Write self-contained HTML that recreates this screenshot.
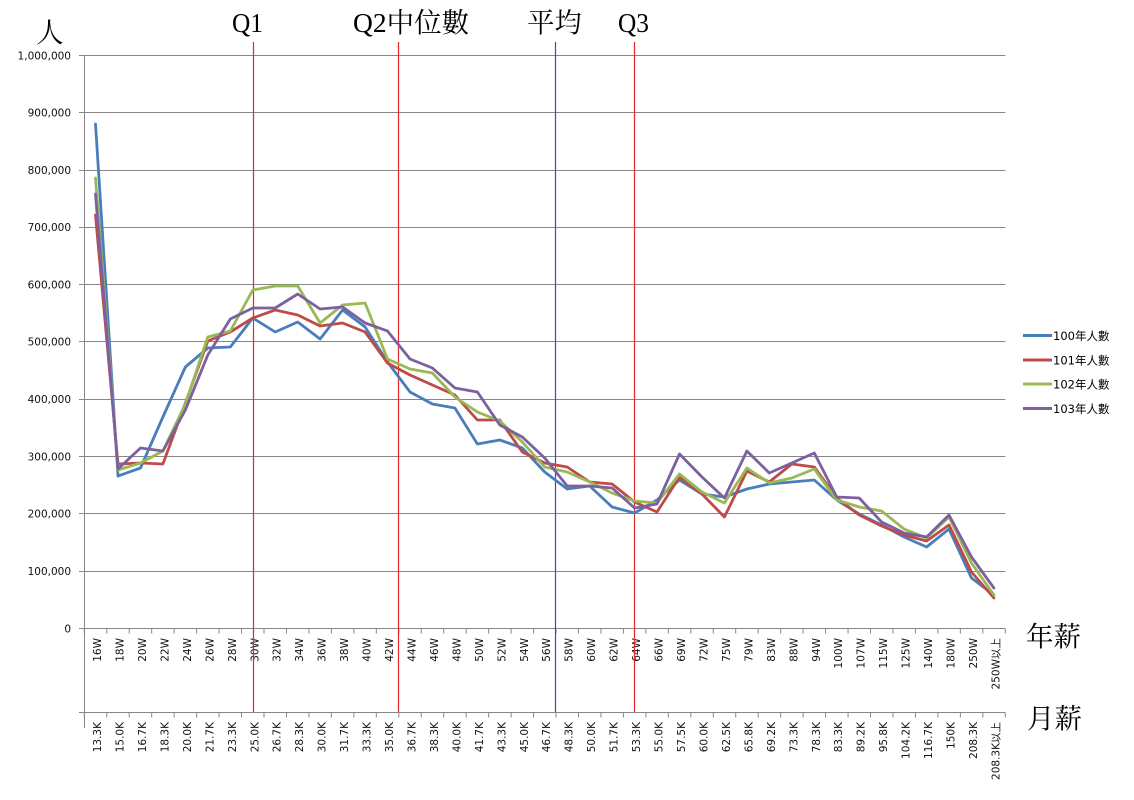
<!DOCTYPE html>
<html><head><meta charset="utf-8"><style>
html,body{margin:0;padding:0;background:#fff;}
svg{display:block;}
.ax{font-family:"DejaVu Sans","Liberation Sans","Noto Sans CJK TC",sans-serif;font-size:10.5px;fill:#111;}
.tt{font-family:"Liberation Serif","Noto Serif CJK TC",serif;font-size:27.5px;fill:#000;}
.lg{font-family:"DejaVu Sans","Noto Sans CJK TC",sans-serif;font-size:11.5px;fill:#000;}
</style></head><body>
<svg width="1134" height="800" viewBox="0 0 1134 800" xmlns="http://www.w3.org/2000/svg">
<rect width="1134" height="800" fill="#fff"/>
<!-- gridlines -->
<g stroke="#868686" stroke-width="1" fill="none">
<path d="M79,55.5H1005.3M79,112.5H1005.3M79,170.5H1005.3M79,227.5H1005.3M79,284.5H1005.3M79,341.5H1005.3M79,399.5H1005.3M79,456.5H1005.3M79,513.5H1005.3M79,571.5H1005.3M79,628.5H1005.3M79,712.5H1005.3"/>
<path d="M84.5,55V728"/>
<path d="M84.3,628.5v5m22.463,-5v5m22.463,-5v5m22.463,-5v5m22.463,-5v5m22.463,-5v5m22.463,-5v5m22.463,-5v5m22.463,-5v5m22.463,-5v5m22.463,-5v5m22.463,-5v5m22.463,-5v5m22.463,-5v5m22.463,-5v5m22.463,-5v5m22.463,-5v5m22.463,-5v5m22.463,-5v5m22.463,-5v5m22.463,-5v5m22.463,-5v5m22.463,-5v5m22.463,-5v5m22.463,-5v5m22.463,-5v5m22.463,-5v5m22.463,-5v5m22.463,-5v5m22.463,-5v5m22.463,-5v5m22.463,-5v5m22.463,-5v5m22.463,-5v5m22.463,-5v5m22.463,-5v5m22.463,-5v5m22.463,-5v5m22.463,-5v5m22.463,-5v5m22.463,-5v5m22.463,-5v5"/>
<path d="M84.3,712.5v5m22.463,-5v5m22.463,-5v5m22.463,-5v5m22.463,-5v5m22.463,-5v5m22.463,-5v5m22.463,-5v5m22.463,-5v5m22.463,-5v5m22.463,-5v5m22.463,-5v5m22.463,-5v5m22.463,-5v5m22.463,-5v5m22.463,-5v5m22.463,-5v5m22.463,-5v5m22.463,-5v5m22.463,-5v5m22.463,-5v5m22.463,-5v5m22.463,-5v5m22.463,-5v5m22.463,-5v5m22.463,-5v5m22.463,-5v5m22.463,-5v5m22.463,-5v5m22.463,-5v5m22.463,-5v5m22.463,-5v5m22.463,-5v5m22.463,-5v5m22.463,-5v5m22.463,-5v5m22.463,-5v5m22.463,-5v5m22.463,-5v5m22.463,-5v5m22.463,-5v5m22.463,-5v5"/>
</g>
<!-- y labels -->
<g class="ax" text-anchor="end">
<text x="71" y="59.5">1,000,000</text>
<text x="71" y="116.5">900,000</text>
<text x="71" y="174">800,000</text>
<text x="71" y="231">700,000</text>
<text x="71" y="288.5">600,000</text>
<text x="71" y="345.5">500,000</text>
<text x="71" y="403">400,000</text>
<text x="71" y="460.5">300,000</text>
<text x="71" y="517.5">200,000</text>
<text x="71" y="575">100,000</text>
<text x="71" y="632.5">0</text>
</g>
<!-- upper x labels (annual) -->
<g class="ax" text-anchor="end">
<text transform="translate(101,638) rotate(-90)">16W</text>
<text transform="translate(123.5,638) rotate(-90)">18W</text>
<text transform="translate(146,638) rotate(-90)">20W</text>
<text transform="translate(168.4,638) rotate(-90)">22W</text>
<text transform="translate(190.9,638) rotate(-90)">24W</text>
<text transform="translate(213.3,638) rotate(-90)">26W</text>
<text transform="translate(235.8,638) rotate(-90)">28W</text>
<text transform="translate(258.3,638) rotate(-90)">30W</text>
<text transform="translate(280.7,638) rotate(-90)">32W</text>
<text transform="translate(303.2,638) rotate(-90)">34W</text>
<text transform="translate(325.6,638) rotate(-90)">36W</text>
<text transform="translate(348.1,638) rotate(-90)">38W</text>
<text transform="translate(370.6,638) rotate(-90)">40W</text>
<text transform="translate(393,638) rotate(-90)">42W</text>
<text transform="translate(415.5,638) rotate(-90)">44W</text>
<text transform="translate(437.9,638) rotate(-90)">46W</text>
<text transform="translate(460.4,638) rotate(-90)">48W</text>
<text transform="translate(482.9,638) rotate(-90)">50W</text>
<text transform="translate(505.3,638) rotate(-90)">52W</text>
<text transform="translate(527.8,638) rotate(-90)">54W</text>
<text transform="translate(550.2,638) rotate(-90)">56W</text>
<text transform="translate(572.7,638) rotate(-90)">58W</text>
<text transform="translate(595.2,638) rotate(-90)">60W</text>
<text transform="translate(617.6,638) rotate(-90)">62W</text>
<text transform="translate(640.1,638) rotate(-90)">64W</text>
<text transform="translate(662.5,638) rotate(-90)">66W</text>
<text transform="translate(685,638) rotate(-90)">69W</text>
<text transform="translate(707.5,638) rotate(-90)">72W</text>
<text transform="translate(729.9,638) rotate(-90)">75W</text>
<text transform="translate(752.4,638) rotate(-90)">79W</text>
<text transform="translate(774.8,638) rotate(-90)">83W</text>
<text transform="translate(797.3,638) rotate(-90)">88W</text>
<text transform="translate(819.8,638) rotate(-90)">94W</text>
<text transform="translate(842.2,638) rotate(-90)">100W</text>
<text transform="translate(864.7,638) rotate(-90)">107W</text>
<text transform="translate(887.1,638) rotate(-90)">115W</text>
<text transform="translate(909.6,638) rotate(-90)">125W</text>
<text transform="translate(932.1,638) rotate(-90)">140W</text>
<text transform="translate(954.5,638) rotate(-90)">180W</text>
<text transform="translate(977,638) rotate(-90)">250W</text>
<text transform="translate(999.4,638) rotate(-90)">250W以上</text>
</g>
<!-- lower x labels (monthly) -->
<g class="ax" text-anchor="end">
<text transform="translate(101,722) rotate(-90)">13.3K</text>
<text transform="translate(123.5,722) rotate(-90)">15.0K</text>
<text transform="translate(146,722) rotate(-90)">16.7K</text>
<text transform="translate(168.4,722) rotate(-90)">18.3K</text>
<text transform="translate(190.9,722) rotate(-90)">20.0K</text>
<text transform="translate(213.3,722) rotate(-90)">21.7K</text>
<text transform="translate(235.8,722) rotate(-90)">23.3K</text>
<text transform="translate(258.3,722) rotate(-90)">25.0K</text>
<text transform="translate(280.7,722) rotate(-90)">26.7K</text>
<text transform="translate(303.2,722) rotate(-90)">28.3K</text>
<text transform="translate(325.6,722) rotate(-90)">30.0K</text>
<text transform="translate(348.1,722) rotate(-90)">31.7K</text>
<text transform="translate(370.6,722) rotate(-90)">33.3K</text>
<text transform="translate(393,722) rotate(-90)">35.0K</text>
<text transform="translate(415.5,722) rotate(-90)">36.7K</text>
<text transform="translate(437.9,722) rotate(-90)">38.3K</text>
<text transform="translate(460.4,722) rotate(-90)">40.0K</text>
<text transform="translate(482.9,722) rotate(-90)">41.7K</text>
<text transform="translate(505.3,722) rotate(-90)">43.3K</text>
<text transform="translate(527.8,722) rotate(-90)">45.0K</text>
<text transform="translate(550.2,722) rotate(-90)">46.7K</text>
<text transform="translate(572.7,722) rotate(-90)">48.3K</text>
<text transform="translate(595.2,722) rotate(-90)">50.0K</text>
<text transform="translate(617.6,722) rotate(-90)">51.7K</text>
<text transform="translate(640.1,722) rotate(-90)">53.3K</text>
<text transform="translate(662.5,722) rotate(-90)">55.0K</text>
<text transform="translate(685,722) rotate(-90)">57.5K</text>
<text transform="translate(707.5,722) rotate(-90)">60.0K</text>
<text transform="translate(729.9,722) rotate(-90)">62.5K</text>
<text transform="translate(752.4,722) rotate(-90)">65.8K</text>
<text transform="translate(774.8,722) rotate(-90)">69.2K</text>
<text transform="translate(797.3,722) rotate(-90)">73.3K</text>
<text transform="translate(819.8,722) rotate(-90)">78.3K</text>
<text transform="translate(842.2,722) rotate(-90)">83.3K</text>
<text transform="translate(864.7,722) rotate(-90)">89.2K</text>
<text transform="translate(887.1,722) rotate(-90)">95.8K</text>
<text transform="translate(909.6,722) rotate(-90)">104.2K</text>
<text transform="translate(932.1,722) rotate(-90)">116.7K</text>
<text transform="translate(954.5,722) rotate(-90)">150K</text>
<text transform="translate(977,722) rotate(-90)">208.3K</text>
<text transform="translate(999.4,722) rotate(-90)">208.3K以上</text>
</g>
<!-- marker lines -->
<g stroke-width="1.2" fill="none">
<path d="M253.5,42V712" stroke="#e3262b"/>
<path d="M398.5,42V712" stroke="#e3262b"/>
<path d="M555.5,42V712" stroke="#4646b4"/>
<path d="M634.5,42V712" stroke="#e3262b"/>
</g>
<!-- series -->
<g fill="none" stroke-width="2.8" stroke-linejoin="round" stroke-linecap="round">
<polyline stroke="#4a7ebb" points="95.5,124 118,476 140.5,468 162.9,417 185.4,367 207.8,348 230.3,347 252.8,318 275.2,332 297.7,322 320.1,339 342.6,310 365.1,327 387.5,362 410,392 432.4,404 454.9,408 477.4,444 499.8,440 522.3,448 544.7,472 567.2,489 589.7,486 612.1,507 634.6,513 657,500 679.5,480 702,494 724.4,497 746.9,489 769.3,484 791.8,482 814.3,480 836.7,500 859.2,514 881.6,525 904.1,537 926.6,547 949,529 971.5,578 993.9,595"/>
<polyline stroke="#be4b48" points="95.5,215 118,464 140.5,463 162.9,464 185.4,403 207.8,341 230.3,332 252.8,318 275.2,310 297.7,315 320.1,326 342.6,323 365.1,332 387.5,363 410,375 432.4,385 454.9,395 477.4,420 499.8,420 522.3,452 544.7,463 567.2,467 589.7,482 612.1,484 634.6,502 657,512 679.5,477 702,494 724.4,517 746.9,471 769.3,482 791.8,464 814.3,467 836.7,498 859.2,515 881.6,526 904.1,535 926.6,541 949,525 971.5,572 993.9,598"/>
<polyline stroke="#98b954" points="95.5,178 118,470 140.5,463 162.9,451 185.4,404 207.8,337 230.3,331 252.8,290 275.2,286 297.7,286 320.1,323 342.6,305 365.1,303 387.5,359 410,369 432.4,373 454.9,397 477.4,412 499.8,421 522.3,442 544.7,467 567.2,472 589.7,482 612.1,493 634.6,501 657,503 679.5,474 702,492 724.4,503 746.9,468 769.3,483 791.8,478 814.3,469 836.7,500 859.2,507 881.6,511 904.1,529 926.6,538 949,517 971.5,563 993.9,595"/>
<polyline stroke="#7d60a0" points="95.5,194 118,469 140.5,448 162.9,451 185.4,410 207.8,355 230.3,319 252.8,308 275.2,308 297.7,294 320.1,309 342.6,307 365.1,323 387.5,331 410,359 432.4,368 454.9,388 477.4,392 499.8,425 522.3,437 544.7,458 567.2,486 589.7,486 612.1,488 634.6,508 657,504 679.5,454 702,477 724.4,498 746.9,451 769.3,473 791.8,463 814.3,453 836.7,497 859.2,498 881.6,522 904.1,533 926.6,537 949,515 971.5,557 993.9,588"/>
</g>
<!-- titles -->
<text class="tt" x="36" y="42" font-size="28">人</text>
<text class="tt" x="232" y="32" textLength="31" lengthAdjust="spacingAndGlyphs">Q1</text>
<text class="tt" x="353" y="32">Q2中位數</text>
<text class="tt" x="527" y="32">平均</text>
<text class="tt" x="618" y="32" textLength="31" lengthAdjust="spacingAndGlyphs">Q3</text>
<text class="tt" x="1026" y="646" font-size="28">年薪</text>
<text class="tt" x="1027" y="728" font-size="28">月薪</text>
<!-- legend -->
<g stroke-width="3" fill="none">
<path d="M1023,335.5H1052" stroke="#4a7ebb"/>
<path d="M1023,360H1052" stroke="#be4b48"/>
<path d="M1023,384H1052" stroke="#98b954"/>
<path d="M1023,408.5H1052" stroke="#7d60a0"/>
</g>
<g class="lg">
<text x="1053" y="340">100年人數</text>
<text x="1053" y="364.5">101年人數</text>
<text x="1053" y="388.5">102年人數</text>
<text x="1053" y="413">103年人數</text>
</g>
</svg>
</body></html>
